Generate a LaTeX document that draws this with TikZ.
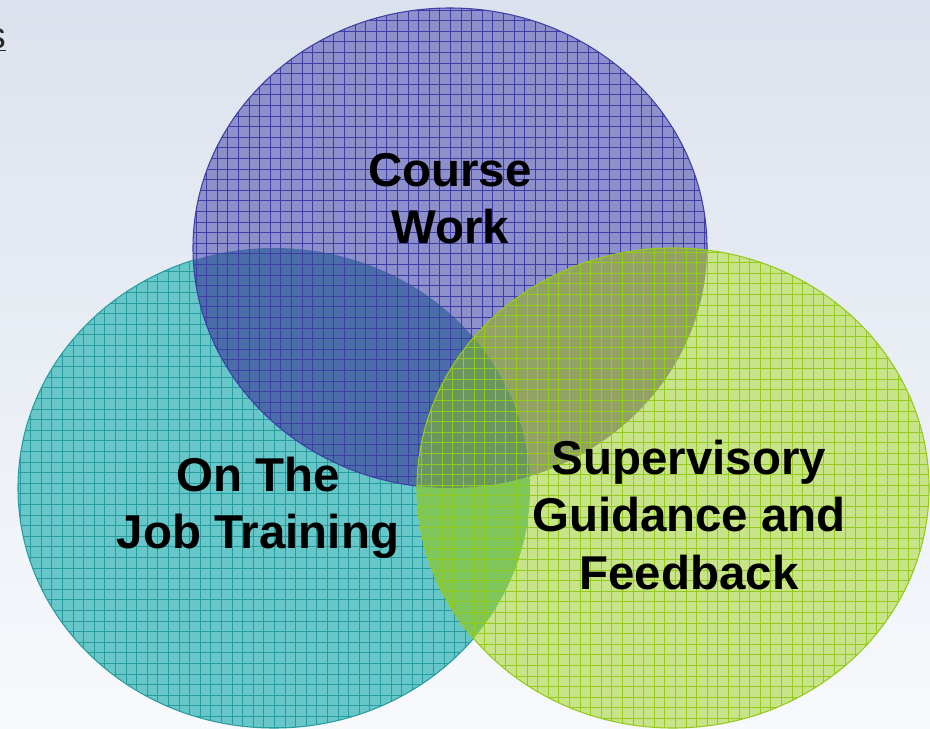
\documentclass[tikz,border=0pt]{standalone}
\usepackage{fontspec}
\setmainfont{Liberation Sans}
\begin{document}
\begin{tikzpicture}[x=0.75pt,y=-0.75pt,
    gridline/.style={line width=0.75pt},
    rimline/.style={line width=0.8pt},
    venntext/.style={font=\bfseries\fontsize{35.6}{42.8}\selectfont, align=center, inner sep=0pt}]
% \clip (0,0) rectangle (930,728);

% Changing colors for background and circles
\definecolor{r220g226b237}{RGB}{220,226,237}%
\definecolor{r247g249b252}{RGB}{247,249,252}%
\definecolor{r102g198b200}{RGB}{102,198,200}%
\definecolor{r40g156b158}{RGB}{40,156,158}%
\definecolor{r142g144b204}{RGB}{142,144,204}%
\definecolor{r62g62b166}{RGB}{62,62,166}%
\definecolor{r74g108b168}{RGB}{74,108,168}%
\definecolor{r200g228b136}{RGB}{200,228,136}%
\definecolor{r148g202b28}{RGB}{148,202,28}%
\definecolor{r146g162b98}{RGB}{146,162,98}%
\definecolor{r126g198b90}{RGB}{126,198,90}%
\definecolor{r108g150b96}{RGB}{108,150,96}%
\definecolor{r40g40b40}{RGB}{40,40,40}%

% Drawing background
\shade[shading angle=45, top color=r220g226b237, bottom color=r247g249b252] (0,0) rectangle (930,728);%
\useasboundingbox (0,0) rectangle (930,728);

% Marking cut title s
\node[anchor=base east, inner sep=0pt, text=r40g40b40, font=\fontsize{28}{30}\selectfont] (titlecut) at (6,48) {\underline{s}};%

% Drawing circle On The Job Training
\fill[r102g198b200] (274,488) ellipse [x radius=256, y radius=240];%
\begin{scope}
  \clip (274,488) ellipse [x radius=256, y radius=240];%
  \foreach \gx in {20,30.6,...,540} \draw[gridline, r40g156b158] (\gx,240) -- (\gx,740);%
  \foreach \gy in {250,260.6,...,740} \draw[gridline, r40g156b158] (10,\gy) -- (540,\gy);%
\end{scope}
\draw[rimline, r40g156b158] (274,488) ellipse [x radius=256, y radius=240];%

% Drawing circle Course Work
\fill[r142g144b204] (450,248) ellipse [x radius=257, y radius=240];%
\begin{scope}
  \clip (450,248) ellipse [x radius=257, y radius=240];%
  \fill[r74g108b168] (274,488) ellipse [x radius=256, y radius=240];%
  \foreach \gx in {196,206.6,...,712} \draw[gridline, r62g62b166] (\gx,0) -- (\gx,495);%
  \foreach \gy in {10,20.6,...,495} \draw[gridline, r62g62b166] (185,\gy) -- (712,\gy);%
\end{scope}
\draw[rimline, r62g62b166] (450,248) ellipse [x radius=257, y radius=240];%

% Drawing circle Supervisory Guidance and Feedback
\fill[r200g228b136] (673,488) ellipse [x radius=256, y radius=240];%
\begin{scope}
  \clip (673,488) ellipse [x radius=256, y radius=240];%
  \fill[r146g162b98] (450,248) ellipse [x radius=257, y radius=240];%
  \fill[r126g198b90] (274,488) ellipse [x radius=256, y radius=240];%
  \begin{scope}
    \clip (274,488) ellipse [x radius=256, y radius=240];%
    \fill[r108g150b96] (450,248) ellipse [x radius=257, y radius=240];%
  \end{scope}
  \foreach \gx in {421,431.6,...,935} \draw[gridline, r148g202b28] (\gx,240) -- (\gx,740);%
  \foreach \gy in {252,262.6,...,740} \draw[gridline, r148g202b28] (410,\gy) -- (935,\gy);%
\end{scope}
\draw[rimline, r148g202b28] (673,488) ellipse [x radius=256, y radius=240];%

% Marking texts
\node[venntext] (coursework) at (450,199) {Course\\Work};%
\node[venntext] (jobtraining) at (258,508) {On The\\Job Training};%
\node[venntext] (guidance) at (689,515) {Supervisory\\Guidance and\\Feedback};%
\end{tikzpicture}
\end{document}
